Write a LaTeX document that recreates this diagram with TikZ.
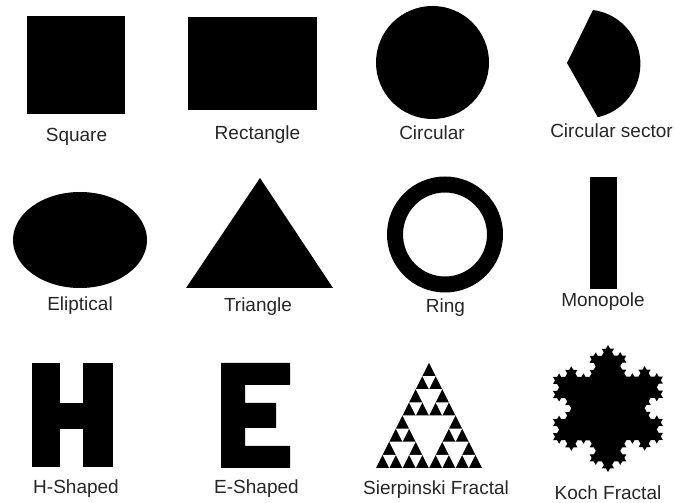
\documentclass[tikz,border=0pt]{standalone}
\usepackage{fontspec}
\setmainfont{Liberation Sans}
\usetikzlibrary{decorations.fractals}
\definecolor{labelcol}{RGB}{38,38,38}
\begin{document}
\begin{tikzpicture}[x=1pt,y=1pt,
  shapefill/.style={fill=black},
  lbl/.style={anchor=base,inner sep=0pt,text=labelcol,font=\fontsize{19}{22}\selectfont}]
\useasboundingbox[fill=white] (0,0) rectangle (675,503);
% Row 1
\fill[shapefill] (27,389) rectangle (125,487);
\node[lbl] (square) at (76.5,361) {Square};
\fill[shapefill] (188,393) rectangle (317,486);
\node[lbl] (rect) at (257.5,363) {Rectangle};
\fill[shapefill] (432.5,440.5) circle[radius=56.5];
\node[lbl] (circ) at (432,363) {Circular};
\fill[shapefill] (567,440) -- (593,493) arc[start angle=82.5,end angle=-77.4,radius=54.5] -- cycle;
\node[lbl] (sector) at (611.5,365) {Circular sector};
% Row 2
\fill[shapefill] (80,263) ellipse[x radius=67,y radius=48];
\node[lbl] (ell) at (80,192) {Eliptical};
\fill[shapefill] (260,325) -- (186,215) -- (333,215) -- cycle;
\node[lbl] (tri) at (258,191) {Triangle};
\fill[shapefill,even odd rule] (445,268.5) circle[radius=58] (445,268.5) circle[radius=42];
\node[lbl] (ring) at (445.5,190) {Ring};
\fill[shapefill] (590,214) rectangle (617,326);
\node[lbl] (mono) at (603,196) {Monopole};
% Row 3: H
\fill[shapefill] (32,36) rectangle (60,140);
\fill[shapefill] (83,36) rectangle (113,140);
\fill[shapefill] (59,74) rectangle (84,100);
\node[lbl] (hshape) at (76,9) {H-Shaped};
% E
\fill[shapefill] (221,35) -- (221,140) -- (290,140) -- (290,118) -- (245,118) -- (245,100)
  -- (276,100) -- (276,75) -- (245,75) -- (245,57) -- (290,57) -- (290,35) -- cycle;
\node[lbl] (eshape) at (256.5,9) {E-Shaped};
% Sierpinski
\begin{scope}[shift={(376,35)},x={(106pt,0pt)},y={(53pt,105pt)}]
  \fill[shapefill] (0,0) -- (1,0) -- (0,1) -- cycle;
  \fill[white] (0.5,0) -- (0,0.5) -- (0.5,0.5) -- cycle;
  \foreach \a/\b in {0/0,0.5/0,0/0.5}{
    \fill[white] ({\a+0.25},\b) -- (\a,{\b+0.25}) -- ({\a+0.25},{\b+0.25}) -- cycle;
    \foreach \c/\d in {0/0,0.25/0,0/0.25}{
      \fill[white] ({\a+\c+0.125},{\b+\d}) -- ({\a+\c},{\b+\d+0.125}) -- ({\a+\c+0.125},{\b+\d+0.125}) -- cycle;
    }
  }
\end{scope}
\node[lbl] (sierp) at (436,8) {Sierpinski Fractal};
% Koch
\begin{scope}[shift={(608,94.5)}]
  \fill[shapefill,decoration=Koch snowflake]
    decorate{decorate{decorate{ (90:63.5) -- (-30:63.5) -- (210:63.5) -- (90:63.5) }}};
\end{scope}
\node[lbl] (koch) at (608,3.5) {Koch Fractal};
\end{tikzpicture}
\end{document}
